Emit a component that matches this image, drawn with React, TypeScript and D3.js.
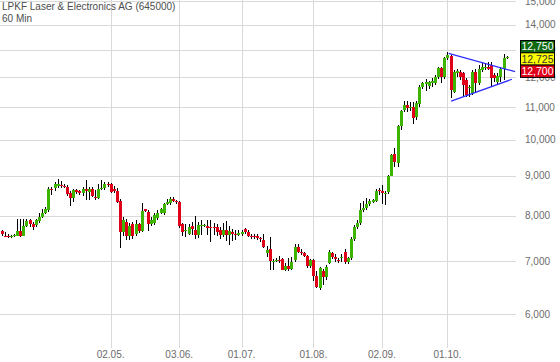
import * as d3 from 'd3';

// daily candles: open, high, low, close
const candles: [number, number, number, number][] = [
  [7.65, 7.67, 7.54, 7.58], [7.55, 7.62, 7.52, 7.54], [7.55, 7.59, 7.5, 7.51], [7.51, 7.57, 7.49, 7.55],
  [7.54, 7.58, 7.52, 7.56], [7.55, 7.92, 7.53, 7.65], [7.65, 7.92, 7.52, 7.54], [7.55, 7.92, 7.53, 7.77],
  [7.76, 7.92, 7.74, 7.88], [7.89, 7.92, 7.75, 7.81], [7.82, 7.86, 7.67, 7.74], [7.79, 7.93, 7.74, 7.9],
  [7.88, 8.06, 7.84, 7.97], [7.97, 8.15, 7.94, 8.07], [8.07, 8.21, 8.04, 8.15], [8.13, 8.7, 8.1, 8.66],
  [8.65, 8.7, 8.51, 8.62], [8.69, 8.84, 8.61, 8.79], [8.74, 8.92, 8.67, 8.79], [8.76, 8.86, 8.67, 8.73],
  [8.74, 8.79, 8.67, 8.72], [8.71, 8.75, 8.48, 8.53], [8.55, 8.59, 8.23, 8.42], [8.42, 8.66, 8.34, 8.62],
  [8.62, 8.66, 8.53, 8.58], [8.59, 8.62, 8.5, 8.56], [8.56, 8.71, 8.47, 8.64], [8.66, 8.88, 8.37, 8.6],
  [8.58, 8.71, 8.37, 8.65], [8.66, 8.71, 8.45, 8.48], [8.46, 8.62, 8.38, 8.43], [8.43, 8.79, 8.4, 8.65],
  [8.65, 8.88, 8.62, 8.67], [8.67, 8.84, 8.62, 8.78], [8.78, 8.82, 8.7, 8.75], [8.78, 8.8, 8.55, 8.58],
  [8.66, 8.73, 8.56, 8.6], [8.61, 8.67, 8.3, 8.32], [8.36, 8.4, 7.27, 7.63], [7.63, 7.98, 7.53, 7.9],
  [7.86, 7.92, 7.45, 7.55], [7.55, 7.83, 7.45, 7.76], [7.81, 7.86, 7.48, 7.54], [7.58, 7.9, 7.53, 7.82],
  [7.81, 7.84, 7.61, 7.65], [7.65, 8.3, 7.62, 8.12], [8.15, 8.17, 8.08, 8.12], [8.1, 8.13, 7.64, 7.81],
  [7.82, 7.98, 7.76, 7.9], [7.83, 8.06, 7.78, 8.01], [7.95, 8.13, 7.91, 8.07], [8.06, 8.18, 8.03, 8.15],
  [8.06, 8.31, 8.02, 8.29], [8.28, 8.4, 8.25, 8.33], [8.3, 8.45, 8.26, 8.4], [8.4, 8.46, 8.32, 8.36],
  [8.36, 8.38, 8.28, 8.34], [8.34, 8.36, 7.72, 7.76], [7.81, 7.83, 7.53, 7.62], [7.64, 7.81, 7.52, 7.67],
  [7.58, 7.81, 7.56, 7.75], [7.76, 7.86, 7.56, 7.69], [7.68, 8.0, 7.47, 7.56], [7.56, 7.86, 7.5, 7.79],
  [7.77, 7.9, 7.56, 7.78], [7.77, 7.81, 7.74, 7.79], [7.77, 7.9, 7.56, 7.71], [7.74, 7.9, 7.4, 7.71],
  [7.74, 7.83, 7.56, 7.73], [7.73, 7.81, 7.54, 7.63], [7.68, 7.74, 7.47, 7.56], [7.56, 7.83, 7.52, 7.68],
  [7.68, 7.88, 7.44, 7.56], [7.56, 7.76, 7.35, 7.65], [7.63, 7.69, 7.42, 7.58], [7.58, 7.67, 7.45, 7.57],
  [7.57, 7.67, 7.53, 7.6], [7.59, 7.67, 7.53, 7.63], [7.69, 7.71, 7.58, 7.62], [7.63, 7.67, 7.51, 7.55],
  [7.55, 7.58, 7.48, 7.54], [7.55, 7.58, 7.48, 7.53], [7.53, 7.58, 7.45, 7.49], [7.49, 7.51, 7.4, 7.47],
  [7.45, 7.58, 7.27, 7.31], [7.17, 7.32, 7.1, 7.23], [7.25, 7.52, 6.82, 7.0], [6.99, 7.05, 6.82, 7.0],
  [7.01, 7.06, 6.98, 7.03], [7.03, 7.11, 6.97, 7.02], [7.04, 7.06, 6.82, 6.83], [6.83, 6.96, 6.81, 6.91],
  [6.91, 7.06, 6.81, 6.85], [6.85, 7.08, 6.83, 6.99], [7.03, 7.37, 6.99, 7.3], [7.3, 7.37, 7.18, 7.2],
  [7.2, 7.26, 7.13, 7.17], [7.17, 7.2, 7.08, 7.12], [7.12, 7.14, 6.87, 6.9], [6.9, 7.04, 6.87, 7.03],
  [7.03, 7.04, 6.61, 6.7], [6.71, 6.8, 6.48, 6.49], [6.47, 6.88, 6.43, 6.86], [6.8, 6.84, 6.54, 6.69],
  [6.69, 6.93, 6.63, 6.89], [6.97, 7.23, 6.95, 7.19], [7.18, 7.2, 7.04, 7.1], [7.1, 7.15, 6.99, 7.04],
  [7.03, 7.06, 6.97, 7.01], [7.08, 7.16, 6.99, 7.09], [7.19, 7.25, 6.94, 6.99], [6.99, 7.1, 6.95, 7.06],
  [7.06, 7.52, 7.02, 7.47], [7.47, 7.79, 7.44, 7.74], [7.74, 7.9, 7.7, 7.84], [7.84, 8.3, 7.78, 8.13],
  [8.13, 8.35, 8.1, 8.19], [8.18, 8.43, 8.14, 8.27], [8.27, 8.4, 8.22, 8.36], [8.34, 8.4, 8.3, 8.37],
  [8.36, 8.66, 8.32, 8.6], [8.62, 8.69, 8.5, 8.6], [8.6, 8.75, 8.27, 8.54], [8.53, 8.6, 8.26, 8.56],
  [8.57, 9.01, 8.53, 8.99], [8.99, 9.58, 8.98, 9.55], [9.58, 9.75, 9.24, 9.36], [9.33, 10.44, 9.22, 10.4],
  [10.4, 10.9, 10.28, 10.87], [10.9, 11.18, 10.85, 11.07], [11.07, 11.18, 10.85, 10.96], [10.98, 11.15, 10.88, 11.01],
  [11.01, 11.15, 10.47, 10.66], [10.69, 11.18, 10.59, 11.12], [11.09, 11.73, 11.01, 11.67], [11.67, 11.85, 11.59, 11.79],
  [11.77, 11.93, 11.53, 11.83], [11.7, 11.88, 11.58, 11.83], [11.81, 11.96, 11.67, 11.88], [11.81, 12.07, 11.73, 12.01],
  [12.01, 12.38, 11.93, 12.32], [12.32, 12.38, 11.81, 12.01], [12.01, 12.75, 11.93, 12.69], [12.69, 12.94, 12.62, 12.81],
  [12.78, 12.8, 11.28, 11.56], [11.5, 12.26, 11.45, 12.2], [12.16, 12.29, 12.02, 12.22], [12.2, 12.26, 11.9, 12.02],
  [12.14, 12.2, 11.37, 11.72], [11.9, 11.96, 11.33, 11.39], [11.62, 11.73, 11.33, 11.67], [11.45, 12.26, 11.39, 12.2],
  [12.2, 12.29, 11.45, 11.79], [11.79, 12.45, 11.73, 12.29], [12.26, 12.51, 12.2, 12.36], [12.32, 12.53, 12.26, 12.38],
  [12.38, 12.56, 12.26, 12.29], [12.44, 12.56, 11.67, 11.96], [12.08, 12.14, 11.85, 11.96], [11.83, 12.14, 11.73, 12.06],
  [12.02, 12.38, 11.85, 12.29], [12.29, 12.86, 11.9, 12.69], [12.69, 12.78, 12.66, 12.75],
];

const dateTickIndex = [35, 57, 77, 100, 122, 143];
const dateTickLabels = ['02.05.', '03.06.', '01.07.', '01.08.', '02.09.', '01.10.'];
const priceTicks = [6, 7, 8, 9, 10, 11, 12, 13, 14, 15];

// triangle: [candle index, price]
const trendUpper: [number, number][] = [[143.4, 12.87], [164.7, 12.2]];
const trendLower: [number, number][] = [[144.2, 11.19], [163.7, 11.93]];

const quoteValues = [12.75, 12.725, 12.7];

const W = 560;
const H = 362;
const PLOT_RIGHT = 516;
const PLOT_BOTTOM = 348;
const FONT = '"Liberation Sans", Arial, sans-serif';
const UP = '#3cb400';
const DOWN = '#e0001a';
const QUOTE_FILL = ['#0f6a12', '#ffff00', '#e0001a'];
const QUOTE_TEXT = ['#ffffff', '#333333', '#ffffff'];

const fmt = (v: number) => v.toFixed(3).replace('.', ',');

export default function App() {
  const x = d3.scaleLinear().domain([0, 165]).range([1.5, PLOT_RIGHT]);
  const y = d3.scaleLog().domain([6, 15]).range([314, 1.1]);
  const line = d3.line<[number, number]>().x((d) => x(d[0])).y((d) => y(d[1]));

  return (
    <div style={{ position: 'absolute', left: 0, top: 0 }}>
      <svg width={W} height={H} style={{ display: 'block', background: '#fff' }}>
        {/* grid */}
        {priceTicks.map((t) => (
          <line key={'h' + t} x1={0} x2={PLOT_RIGHT} y1={Math.round(y(t)) + 0.5} y2={Math.round(y(t)) + 0.5}
            stroke="#d9d9d9" strokeWidth={1} />
        ))}
        {dateTickIndex.map((i) => (
          <line key={'v' + i} x1={Math.round(x(i)) + 0.5} x2={Math.round(x(i)) + 0.5} y1={0} y2={PLOT_BOTTOM}
            stroke="#d9d9d9" strokeWidth={1} />
        ))}

        {/* candles */}
        <g shapeRendering="crispEdges">
          {candles.map(([o, h, l, c], i) => {
            const cx = Math.round(x(i));
            const top = Math.round(y(Math.max(o, c)));
            const bot = Math.round(y(Math.min(o, c)));
            return (
              <g key={i}>
                <rect x={cx} y={Math.round(y(h))} width={1} height={Math.round(y(l)) - Math.round(y(h))} fill="#000" />
                <rect x={cx - 1} y={top} width={3} height={Math.max(1, bot - top)}
                  fill={c >= o ? UP : DOWN} />
              </g>
            );
          })}
        </g>

        {/* triangle */}
        <path d={line(trendUpper) ?? ''} fill="none" stroke="#2b2bff" strokeWidth={1.2} />
        <path d={line(trendLower) ?? ''} fill="none" stroke="#2b2bff" strokeWidth={1.2} />

        {/* axes labels */}
        {priceTicks.map((t) => (
          <text key={'yl' + t} x={525} y={y(t) + 3.5} fontFamily={FONT} fontSize={10} fill="#6b6b6b">
            {fmt(t)}
          </text>
        ))}
        {dateTickIndex.map((i, k) => (
          <text key={'xl' + i} x={x(i)} y={358} textAnchor="middle" fontFamily={FONT} fontSize={10} fill="#6b6b6b">
            {dateTickLabels[k]}
          </text>
        ))}

        {/* last quote boxes */}
        {quoteValues.map((v, k) => (
          <g key={'q' + k}>
            <rect x={520.5} y={40.5 + k * 12.3} width={34} height={12.3} fill={QUOTE_FILL[k]} stroke="#000" strokeWidth={1} />
            <text x={537.5} y={50.2 + k * 12.3} textAnchor="middle" fontFamily={FONT} fontSize={10.5}
              fill={QUOTE_TEXT[k]}>{fmt(v)}</text>
          </g>
        ))}

        {/* title */}
        <text x={2} y={10} fontFamily={FONT} fontSize={10} fill="#4d4d4d">LPKF Laser &amp; Electronics AG (645000)</text>
        <text x={2} y={22} fontFamily={FONT} fontSize={10} fill="#4d4d4d">60 Min</text>
      </svg>
    </div>
  );
}
